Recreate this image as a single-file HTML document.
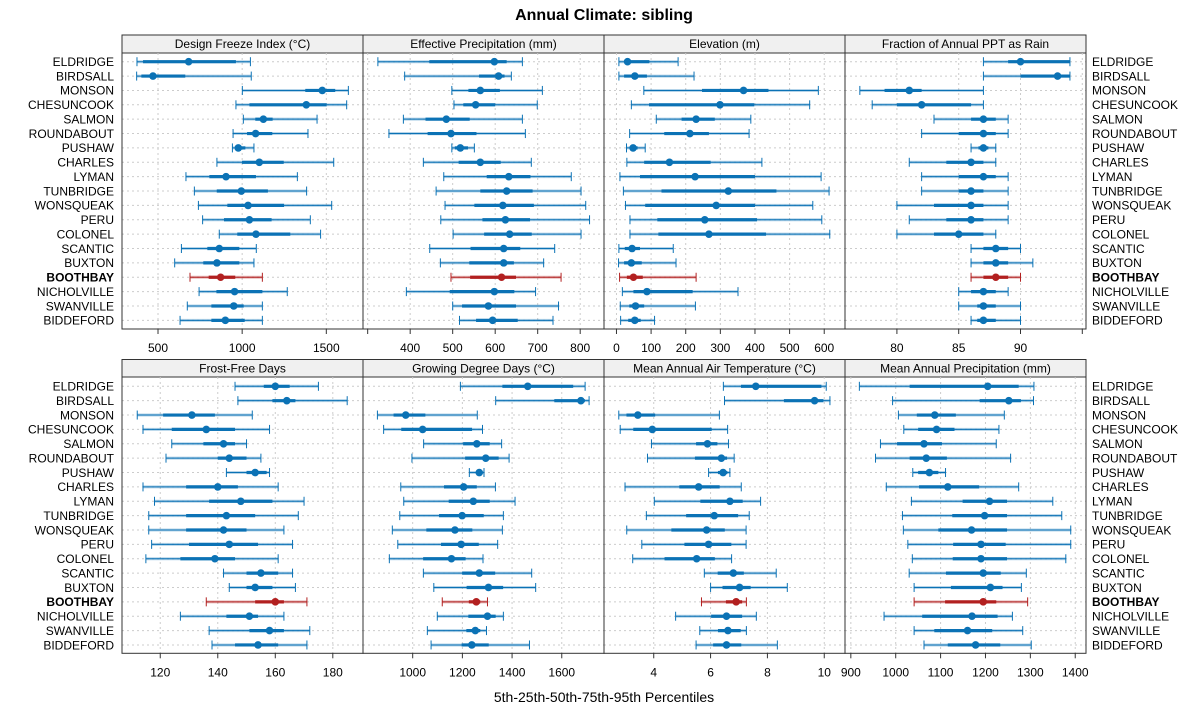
<!DOCTYPE html>
<html><head><meta charset="utf-8"><style>
html,body{margin:0;padding:0;background:#fff;}
svg{display:block;font-family:"Liberation Sans",sans-serif;}
</style></head><body>
<svg id="chart" width="1200" height="725" viewBox="0 0 1200 725">
<text x="604" y="20" text-anchor="middle" font-size="16" font-weight="bold">Annual Climate: sibling</text>
<text x="604" y="702" text-anchor="middle" font-size="14">5th-25th-50th-75th-95th Percentiles</text>
</svg>
<script>
const sites = ["ELDRIDGE","BIRDSALL","MONSON","CHESUNCOOK","SALMON","ROUNDABOUT","PUSHAW","CHARLES","LYMAN","TUNBRIDGE","WONSQUEAK","PERU","COLONEL","SCANTIC","BUXTON","BOOTHBAY","NICHOLVILLE","SWANVILLE","BIDDEFORD"];
const highlightSite = "BOOTHBAY";
const panelTitles = ["Design Freeze Index (°C)","Effective Precipitation (mm)","Elevation (m)","Fraction of Annual PPT as Rain","Frost-Free Days","Growing Degree Days (°C)","Mean Annual Air Temperature (°C)","Mean Annual Precipitation (mm)"];
const designFreeze = [[375,411,682,963,1049],[373,401,470,662,1054],[1001,1375,1476,1553,1631],[963,1043,1381,1502,1621],[1007,1078,1126,1181,1445],[946,1029,1080,1179,1391],[942,959,977,1019,1070],[850,999,1102,1247,1544],[666,805,904,1082,1328],[716,849,995,1153,1383],[740,912,1035,1249,1532],[765,892,1043,1175,1405],[864,971,1082,1286,1466],[639,793,864,983,1084],[599,769,850,983,1070],[690,801,872,959,1120],[744,847,955,1120,1268],[674,817,950,1009,1120],[631,817,900,1015,1120]];
const effPrecip = [[324,445,598,627,664],[387,562,608,622,638],[498,537,565,611,711],[503,525,554,600,699],[384,436,485,540,664],[350,441,496,556,671],[498,505,518,536,551],[431,514,565,613,685],[479,580,632,683,779],[461,565,627,688,802],[482,551,618,691,813],[472,570,624,682,822],[501,574,634,686,802],[446,542,620,659,740],[471,539,620,644,714],[496,541,615,649,755],[391,493,598,645,695],[500,522,584,649,749],[516,555,594,653,736]];
const elevation = [[7,22,32,95,178],[7,22,53,88,224],[79,247,367,439,583],[43,94,299,398,558],[115,188,230,284,388],[38,138,212,267,383],[29,39,48,61,83],[30,80,153,272,420],[10,68,227,400,591],[20,130,323,462,614],[26,83,288,400,567],[39,118,255,406,593],[39,121,267,432,616],[7,24,45,68,164],[6,22,43,73,172],[9,30,49,76,230],[17,49,88,220,351],[11,37,55,80,228],[12,34,53,70,110]];
const fracRain = [[87,89,90,94,94],[87,90,93,94,94],[77,79,81,82,87],[78,80,82,86,87],[83,86,87,88,89],[82,85,87,88,89],[86,86.6,87,87.4,88],[81,84,86,87,88],[82,85,87,88,89],[82,85,86,87,89],[80,83,86,87,89],[81,84,86,87,89],[80,83,85,87,88],[86,87,88,89,90],[86,87,88,89,91],[86,87,88,89,90],[85,86,87,88,89],[85,86.5,87,88,90],[86,86.5,87,88,90]];
const frostFree = [[146,156,160,165,175],[147,159,164,167,185],[112,121,131,139,152],[114,124,136,146,158],[124,135,142,146,150],[122,140,144,150,155],[143,150,153,157,158],[114,129,140,147,161],[118,137,148,159,170],[116,129,143,153,168],[116,129,142,150,163],[117,130,144,154,166],[115,127,139,146,161],[142,150,155,161,166],[144,150,153,159,167],[136,153,160,163,171],[127,143,151,154,163],[137,151,158,163,172],[138,146,154,161,171]];
const growDegree = [[1192,1361,1463,1646,1694],[1334,1570,1677,1693,1710],[858,923,972,1051,1260],[883,954,1040,1239,1281],[1044,1203,1258,1310,1358],[997,1211,1294,1346,1388],[1228,1256,1268,1278,1287],[952,1126,1205,1258,1333],[964,1145,1244,1310,1412],[948,1106,1199,1286,1365],[918,1055,1170,1240,1361],[940,1114,1195,1266,1342],[906,1042,1156,1213,1283],[1043,1199,1268,1332,1479],[1085,1217,1305,1364,1495],[1119,1226,1256,1272,1301],[1099,1224,1301,1334,1365],[1059,1216,1252,1272,1297],[1074,1197,1238,1306,1470]];
const meanTemp = [[6.45,7.07,7.59,9.9,10.07],[6.49,8.58,9.66,9.97,10.2],[2.77,3.04,3.44,4.05,6.31],[2.82,3.28,3.95,6.04,6.6],[3.92,5.49,5.89,6.24,6.63],[3.78,5.45,6.38,6.58,6.83],[5.93,6.26,6.44,6.59,6.68],[2.99,4.9,5.58,6.32,7.08],[4.02,5.64,6.68,7.13,7.76],[3.74,5.14,6.13,6.97,7.36],[3.05,4.62,5.86,6.5,7.25],[3.58,5.08,5.93,6.73,7.25],[3.26,4.38,5.51,6.15,6.74],[5.78,6.25,6.8,7.17,8.31],[6.0,6.42,7.02,7.41,8.7],[5.68,6.54,6.9,7.11,7.26],[4.77,6.02,6.56,7.11,7.61],[5.62,6.26,6.61,7.06,7.26],[5.49,6.09,6.56,7.08,8.35]];
const meanPrecip = [[919,1031,1205,1274,1308],[993,1187,1252,1279,1307],[1006,1047,1087,1134,1242],[1018,1050,1091,1131,1230],[966,1003,1063,1103,1224],[955,1031,1068,1114,1256],[1038,1050,1075,1095,1111],[979,1052,1116,1186,1274],[1035,1149,1209,1248,1350],[1015,1126,1198,1248,1370],[1017,1095,1169,1248,1390],[1027,1128,1190,1245,1390],[1037,1127,1190,1248,1379],[1030,1112,1195,1234,1291],[1041,1123,1211,1238,1280],[1041,1110,1195,1224,1294],[974,1059,1170,1227,1260],[1041,1086,1160,1215,1283],[1063,1116,1178,1233,1302]];
const panelDomains = [[286,1718],[289,856],[-36,660],[75.8,95.3],[106.7,190.5],[800,1770],[2.25,10.73],[887,1424]];
const panelTicks = [[500,1000,1500],[300,400,500,600,700,800],[0,100,200,300,400,500,600],[80,85,90,95],[120,140,160,180],[1000,1200,1400,1600],[4,6,8,10],[900,1000,1100,1200,1300,1400]];
const tickLabels = [["500","1000","1500"],["","400","500","600","700","800"],["0","100","200","300","400","500","600"],["80","85","90",""],["120","140","160","180"],["1000","1200","1400","1600"],["4","6","8","10"],["900","1000","1100","1200","1300","1400"]];
const allData = [designFreeze,effPrecip,elevation,fracRain,frostFree,growDegree,meanTemp,meanPrecip];

const NS="http://www.w3.org/2000/svg";
const svg=document.getElementById('chart');
function mk(tag,attrs,parent){const e=document.createElementNS(NS,tag);for(const k in attrs)e.setAttribute(k,attrs[k]);(parent||svg).appendChild(e);return e;}
const panelX=[122,363,604,845], panelW=241;
const rowTop=[{strip:35,top:53,bottom:329,y0:61.7},{strip:359.5,top:377,bottom:653.3,y0:386.3}];
const step=14.37;
const BLUE="#0b72b5", RED="#b22020";

for(let p=0;p<8;p++){
  const col=p%4,row=Math.floor(p/4);
  const R=rowTop[row];const x0=panelX[col];
  const [d0,d1]=panelDomains[p];
  const sx=v=>x0+(v-d0)/(d1-d0)*panelW;
  const g=mk('g',{});
  
  
  const strip=mk('rect',{x:x0,y:R.strip,width:panelW,height:R.top-R.strip,fill:'#f0f0f0',stroke:'#333','stroke-width':1},g);
  
  
  const st=mk('text',{x:x0+panelW/2,y:R.strip+13,'text-anchor':'middle','font-size':12},g);
  st.textContent=panelTitles[p];
  
  
  // grid
  panelTicks[p].forEach((t,i)=>{
    const X=sx(t);
    if(X>x0+1&&X<x0+panelW-1){
      const gl=mk('line',{x1:X,x2:X,y1:R.top,y2:R.bottom,stroke:'#ccc','stroke-dasharray':'2,3','stroke-width':1},g);
      
      
    }
    const tk=mk('line',{x1:X,x2:X,y1:R.bottom,y2:R.bottom+5,stroke:'#333','stroke-width':1},g);
    
    
    if(tickLabels[p][i]){
      const tl=mk('text',{x:X,y:R.bottom+23,'text-anchor':'middle','font-size':12},g);
      tl.textContent=tickLabels[p][i];
      
      
    }
  });
  const data=allData[p];
  sites.forEach((s,i)=>{
    const y=R.y0+i*step;
    const hl=mk('line',{x1:x0,x2:x0+panelW,y1:y,y2:y,stroke:'#ccc','stroke-dasharray':'2,3','stroke-width':1},g);
    
    
    const v=data[i];const c=s===highlightSite?RED:BLUE;
    const eg=mk('g',{},g);
    
    
    mk('line',{x1:sx(v[0]),x2:sx(v[4]),y1:y,y2:y,stroke:c,'stroke-width':3,'stroke-opacity':0.3},eg);
    mk('line',{x1:sx(v[0]),x2:sx(v[4]),y1:y,y2:y,stroke:c,'stroke-width':1},eg);
    mk('line',{x1:sx(v[0]),x2:sx(v[0]),y1:y-4.5,y2:y+4.5,stroke:c,'stroke-width':1},eg);
    mk('line',{x1:sx(v[4]),x2:sx(v[4]),y1:y-4.5,y2:y+4.5,stroke:c,'stroke-width':1},eg);
    mk('line',{x1:sx(v[1]),x2:sx(v[3]),y1:y,y2:y,stroke:c,'stroke-width':3.2},eg);
    mk('circle',{cx:sx(v[2]),cy:y,r:3.8,fill:c},eg);
  });
  const fr=mk('rect',{x:x0,y:R.strip,width:panelW,height:R.bottom-R.strip,fill:'none',stroke:'#333','stroke-width':1},g);
  
  
}
// site labels
for(let row=0;row<2;row++){
  const R=rowTop[row];
  sites.forEach((s,i)=>{
    const y=R.y0+i*step+4.3;
    const bold=s===highlightSite?'bold':'normal';
    const l=mk('text',{x:114,y:y,'text-anchor':'end','font-size':12,'font-weight':bold});
    l.textContent=s;
    
    
    const r=mk('text',{x:1092,y:y,'text-anchor':'start','font-size':12,'font-weight':bold});
    r.textContent=s;
    
    
  });
}
</script>
</body></html>
